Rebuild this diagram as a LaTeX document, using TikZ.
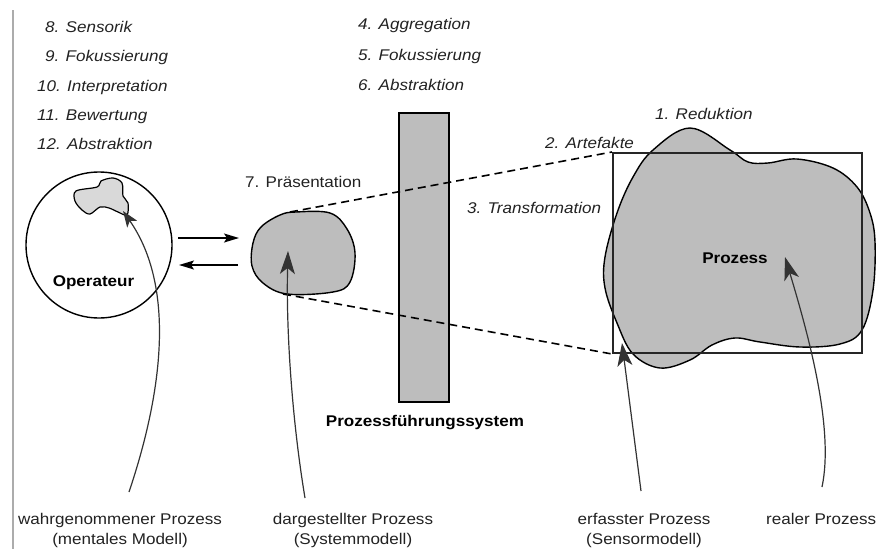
\documentclass[tikz,border=0pt]{standalone}
\usepackage{fontspec}
\setmainfont{Liberation Sans}[FakeStretch=1.1]
\usetikzlibrary{arrows.meta}
\newcommand\lblfont{\fontsize{15.5}{20}\selectfont}
\definecolor{inkgray}{HTML}{222222}
\definecolor{blobgray}{HTML}{BDBDBD}
\definecolor{lightblob}{HTML}{D9D9D9}
\definecolor{arrowgray}{HTML}{333333}
\tikzset{
  txt/.style={font=\lblfont, inner sep=0pt, text=inkgray},
  itxt/.style={font=\lblfont\itshape, inner sep=0pt, text=inkgray, anchor=base west},
  btxt/.style={font=\lblfont\bfseries, inner sep=0pt, text=black},
  blob/.style={draw=black, line width=1.4pt, fill=blobgray},
  curvearrow/.style={draw=arrowgray, line width=1.2pt,
    -{Stealth[length=23pt,width=15pt,inset=6pt,fill=arrowgray]}},
  smallcurvearrow/.style={draw=arrowgray, line width=1.2pt,
    -{Stealth[length=16pt,width=12pt,inset=4pt,fill=arrowgray]}},
  flowarrow/.style={draw=black, line width=1.5pt,
    -{Stealth[length=15pt,width=9pt,inset=3pt]}},
  viewline/.style={draw=black, line width=1.6pt, dash pattern=on 8pt off 5pt},
}
\begin{document}
\begin{tikzpicture}[x=1pt,y=-1pt]
\useasboundingbox (0,0) rectangle (877,549);

% left margin rule
\coordinate (ruleTop) at (13,10);
\coordinate (ruleBot) at (13,549);
\draw[gray!65, line width=1.6pt] (ruleTop) -- (ruleBot);

% steps of the operator
\node[itxt] (s8)  at (45,32)  {8. Sensorik};
\node[itxt] (s9)  at (45,61.5){9. Fokussierung};
\node[itxt] (s10) at (37,91)  {10. Interpretation};
\node[itxt] (s11) at (37,120) {11. Bewertung};
\node[itxt] (s12) at (37,149) {12. Abstraktion};

% steps of the control system
\node[itxt] (s4) at (358,29) {4. Aggregation};
\node[itxt] (s5) at (358,60) {5. Fokussierung};
\node[itxt] (s6) at (358,90) {6. Abstraktion};

% steps of the sensor layer
\node[itxt] (s1) at (655,119) {1. Reduktion};
\node[itxt] (s2) at (545,148) {2. Artefakte};
\node[itxt] (s3) at (467,213) {3. Transformation};
\node[txt, anchor=base west] (s7) at (245,187) {7. Präsentation};

% operator with mental model
\node[draw=black, circle, minimum size=146pt, inner sep=0pt, line width=1.4pt] (op) at (99,245) {};
\filldraw[blob, fill=lightblob, line width=1.2pt] plot[smooth cycle, tension=0.55] coordinates {
  (76,191) (97,187) (101,181) (113,178) (122,183) (123,196) (128,203)
  (127,215) (118,212) (109,208) (100,207) (90,214) (82,210) (75,201)};
\node[btxt, anchor=base] (opname) at (93.5,286) {Operateur};

% interaction arrows
\coordinate (toSysA) at (178,238);
\coordinate (toSysB) at (239,238);
\coordinate (toOpA) at (238,265);
\coordinate (toOpB) at (179,265);
\draw[flowarrow] (toSysA) -- (toSysB);
\draw[flowarrow] (toOpA) -- (toOpB);

% presented process (system model)
\filldraw[blob] plot[smooth cycle, tension=0.6] coordinates {
  (253,243) (261,227) (280,215) (296,212) (330,213) (347,229)
  (355,253) (350,282) (333,292) (287,294) (263,283) (252,266)};

% process control system
\node[draw=black, fill=blobgray, minimum width=50pt, minimum height=289pt,
      inner sep=0pt, line width=1.3pt] (bar) at (424,257.5) {};
\node[btxt, anchor=base] (barname) at (425,426) {Prozessführungssystem};

% real process
\filldraw[blob] plot[smooth cycle, tension=0.6] coordinates {
  (690,128) (730,150) (748,162) (768,163) (797,159) (833,168)
  (857,187) (870,213) (875,242) (873,290) (862,330) (840,344)
  (800,347) (760,342) (735,338) (712,345) (690,360) (660,368)
  (633,354) (617,323) (605,288) (605,257) (617,213) (633,177) (653,150)};

% sensor frame
\node[draw=black!85, line width=2pt, minimum width=249pt, minimum height=200pt,
      inner sep=0pt] (frame) at (737.5,253) {};
\node[btxt, anchor=base] (procname) at (735,263) {Prozess};

% projection of the frame onto the presented process
\coordinate (sysTop) at (290,212);
\coordinate (sysBot) at (283,294);
\draw[viewline] (sysTop) -- (frame.north west);
\draw[viewline] (sysBot) -- (frame.south west);

% labels of the four process views
\node[txt, anchor=base] (lm1) at (120,524) {wahrgenommener Prozess};
\node[txt, anchor=base] (lm2) at (120,544) {(mentales Modell)};
\node[txt, anchor=base] (ls1) at (353,524) {dargestellter Prozess};
\node[txt, anchor=base] (ls2) at (353,544) {(Systemmodell)};
\node[txt, anchor=base] (le1) at (644,524) {erfasster Prozess};
\node[txt, anchor=base] (le2) at (644,544) {(Sensormodell)};
\node[txt, anchor=base west] (lr1) at (766,524) {realer Prozess};

% pointers from the labels into the models
\coordinate (mFoot) at (129,492);
\coordinate (mTip) at (123,211);
\coordinate (sFoot) at (305,498);
\coordinate (sTip) at (288,251);
\coordinate (eFoot) at (641,491);
\coordinate (eTip) at (622,343);
\coordinate (rFoot) at (822,487);
\coordinate (rTip) at (785,257);
\draw[smallcurvearrow] (mFoot) .. controls (160,400) and (178,290) .. (mTip);
\draw[curvearrow] (sFoot) .. controls (292,420) and (286,330) .. (sTip);
\draw[curvearrow] (eFoot) -- (eTip);
\draw[curvearrow] (rFoot) .. controls (834,430) and (810,340) .. (rTip);
\end{tikzpicture}
\end{document}
